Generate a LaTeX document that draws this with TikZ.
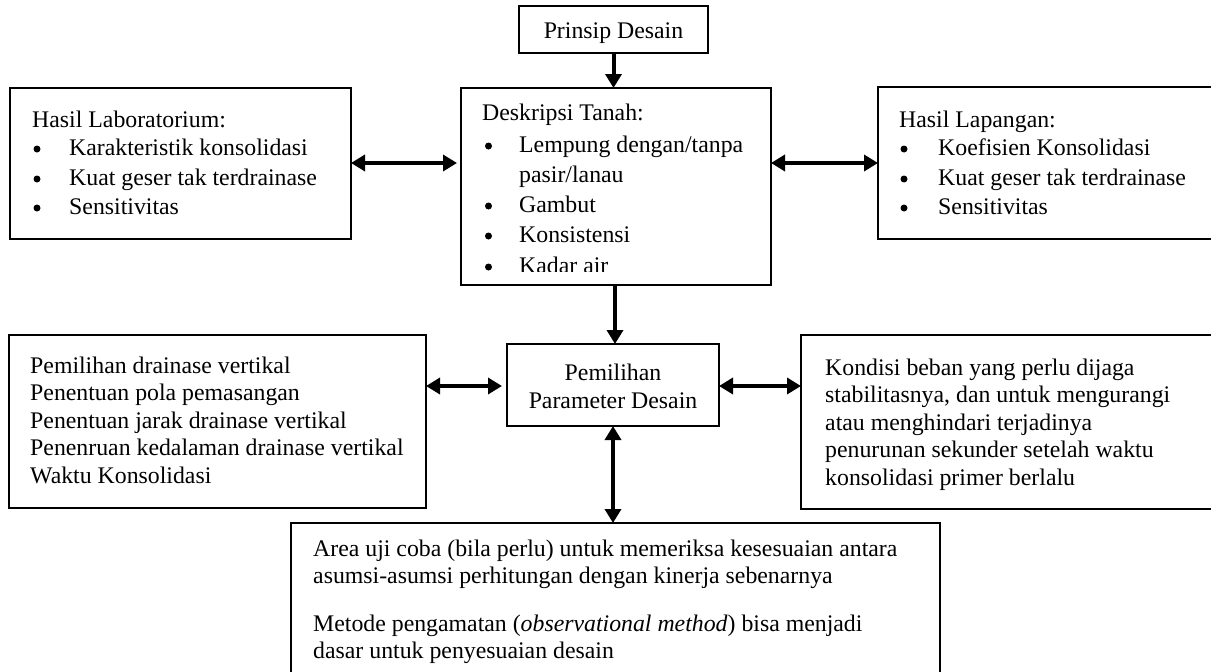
\documentclass[tikz,border=0pt]{standalone}
\usepackage{fontspec}
\setmainfont{Liberation Serif}
\usetikzlibrary{arrows.meta}
\begin{document}
\begin{tikzpicture}[x=1pt,y=-1pt,
  box/.style={draw, line width=2.8pt, inner sep=0pt, outer sep=0pt},
  txt/.style={anchor=base west, inner sep=0pt, font=\fontsize{23.8}{28}\selectfont},
  ctxt/.style={anchor=base, inner sep=0pt, font=\fontsize{23.8}{28}\selectfont},
  bul/.style={circle, fill=black, inner sep=0pt, minimum size=7pt},
  tip/.tip={Triangle[width=16pt,length=14pt]},
  conn/.style={line width=4pt, -tip},
  dconn/.style={line width=4pt, tip-tip},
]
\useasboundingbox (0,0) rectangle (1211,672);
\begin{scope}
\clip (0,0) rectangle (1211,672);

% boxes
\node[box, minimum width=189pt, minimum height=47pt] (prinsip) at (613.5,29.5) {};
\node[box, minimum width=310pt, minimum height=197pt] (desk) at (616,186.5) {};
\node[box, minimum width=341pt, minimum height=151pt] (lab) at (180.5,163.5) {};
\node[box, minimum width=342pt, minimum height=152pt] (lap) at (1049,163) {};
\node[box, minimum width=212pt, minimum height=82pt] (pem) at (613,385) {};
\node[box, minimum width=417pt, minimum height=173pt] (vert) at (217.5,421.5) {};
\node[box, minimum width=424pt, minimum height=174pt] (beban) at (1013,422) {};
\node[box, minimum width=649pt, minimum height=167pt] (area) at (615.5,606.5) {};

% Prinsip Desain
\node[ctxt] (tprinsip) at (613.5,38) {Prinsip Desain};

% Deskripsi Tanah (last line clipped by the box)
\begin{scope}
\clip (461,88) rectangle (771,271);
\node[txt] (d0) at (482,120) {Deskripsi Tanah:};
\node[bul] (db1) at (488.5,146) {};
\node[txt] (d1) at (519,152) {Lempung dengan/tanpa};
\node[txt] (d2) at (519,182) {pasir/lanau};
\node[bul] (db3) at (488.5,206) {};
\node[txt] (d3) at (519,212) {Gambut};
\node[bul] (db4) at (488.5,236) {};
\node[txt] (d4) at (519,242) {Konsistensi};
\node[bul] (db5) at (488.5,267) {};
\node[txt] (d5) at (519,273) {Kadar air};
\end{scope}

% Hasil Laboratorium
\node[txt] (l0) at (32,127) {Hasil Laboratorium:};
\node[bul] (lb1) at (37,149) {};
\node[txt] (l1) at (69,155) {Karakteristik konsolidasi};
\node[bul] (lb2) at (37,179) {};
\node[txt] (l2) at (69,185) {Kuat geser tak terdrainase};
\node[bul] (lb3) at (37,208) {};
\node[txt] (l3) at (69,214) {Sensitivitas};

% Hasil Lapangan
\node[txt] (r0) at (899,127) {Hasil Lapangan:};
\node[bul] (rb1) at (904,149) {};
\node[txt] (r1) at (938,155) {Koefisien Konsolidasi};
\node[bul] (rb2) at (904,179) {};
\node[txt] (r2) at (938,185) {Kuat geser tak terdrainase};
\node[bul] (rb3) at (904,208) {};
\node[txt] (r3) at (938,214) {Sensitivitas};

% Pemilihan Parameter Desain
\node[ctxt] (p1) at (613,380) {Pemilihan};
\node[ctxt] (p2) at (613,408) {Parameter Desain};

% left bottom
\node[txt] (v1) at (30,373) {Pemilihan drainase vertikal};
\node[txt] (v2) at (30,400.5) {Penentuan pola pemasangan};
\node[txt] (v3) at (30,428) {Penentuan jarak drainase vertikal};
\node[txt] (v4) at (30,455.5) {Penenruan kedalaman drainase vertikal};
\node[txt] (v5) at (30,483) {Waktu Konsolidasi};

% right bottom
\node[txt] (b1) at (825,375) {Kondisi beban yang perlu dijaga};
\node[txt] (b2) at (825,402.5) {stabilitasnya, dan untuk mengurangi};
\node[txt] (b3) at (825,430) {atau menghindari terjadinya};
\node[txt] (b4) at (825,457.5) {penurunan sekunder setelah waktu};
\node[txt] (b5) at (825,485) {konsolidasi primer berlalu};

% bottom
\node[txt] (a1) at (313,556) {Area uji coba (bila perlu) untuk memeriksa kesesuaian antara};
\node[txt] (a2) at (313,583.5) {asumsi-asumsi perhitungan dengan kinerja sebenarnya};
\node[txt] (a3) at (313,631) {Metode pengamatan (\textit{observational method}) bisa menjadi};
\node[txt] (a4) at (313,658) {dasar untuk penyesuaian desain};

% connectors
\draw[conn] (prinsip.south) -- (prinsip.south |- desk.north);
\draw[conn] ([xshift=-1pt]desk.south) -- ([xshift=-1pt]desk.south |- pem.north);
\draw[dconn] (lab.east |- 0,163) -- ([xshift=-4pt]desk.west |- 0,163);
\draw[dconn] (desk.east |- 0,163) -- (lap.west |- 0,163);
\draw[dconn] (vert.east |- 0,386) -- ([xshift=-5pt]pem.west |- 0,386);
\draw[dconn] (pem.east |- 0,386) -- (beban.west |- 0,386);
\draw[dconn] (pem.south) -- (pem.south |- area.north);
\end{scope}
\end{tikzpicture}
\end{document}
